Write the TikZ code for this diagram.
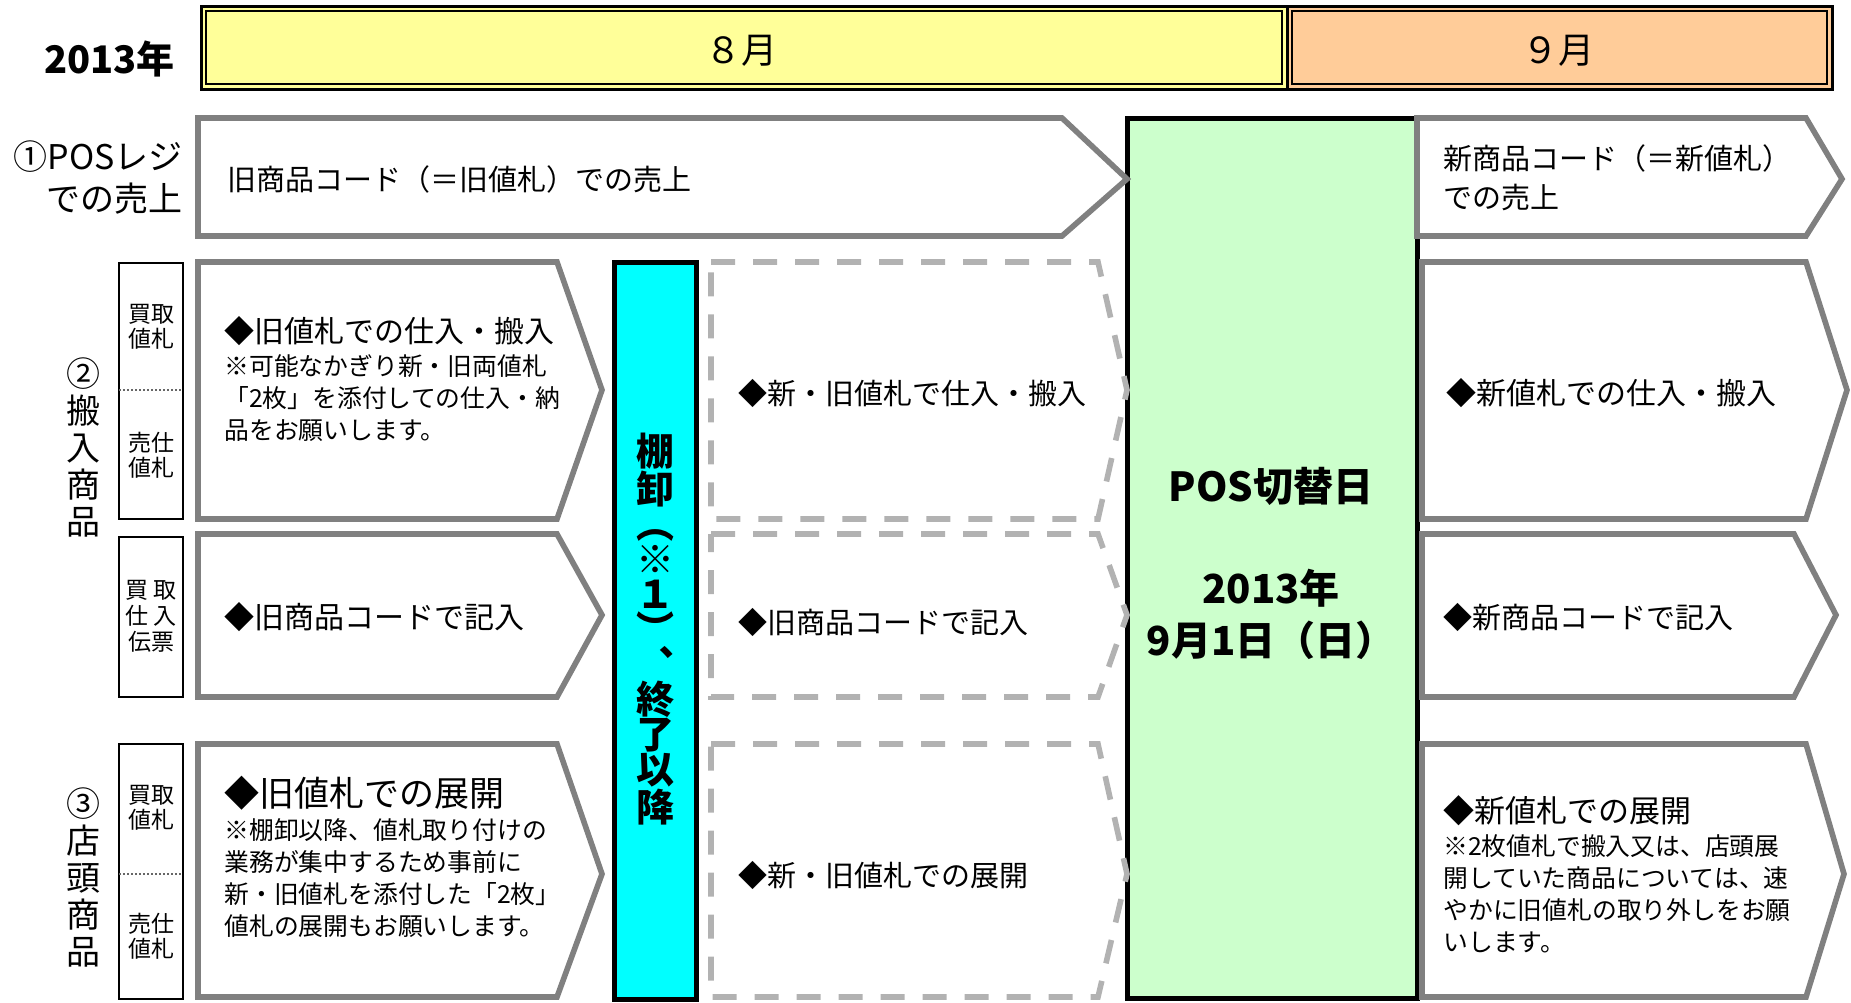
\documentclass[tikz,border=0pt]{standalone}
\usepackage{fontspec}
\setmainfont{Noto Sans CJK JP}
\usetikzlibrary{positioning}
\definecolor{augyellow}{HTML}{FFFF99}
\definecolor{seporange}{HTML}{FFCC99}
\definecolor{switchgreen}{HTML}{CCFFCC}
\definecolor{tanacyan}{HTML}{00FFFF}
\definecolor{dashgray}{HTML}{B2B2B2}

\begin{document}
\begin{tikzpicture}[x=0.5pt,y=-0.5pt]
		\tikzset{oldbox/.style = {draw=black!50, line width=2.8pt, line join=miter, fill=white},
			midbox/.style = {draw=dashgray, line width=2.8pt, dash pattern=on 12pt off 9pt},
			tagbox/.style = {draw, line width=1pt},
			txt/.style = {inner sep=0pt, anchor=west, align=left, font=\fontsize{14.5}{18}\selectfont},
			note/.style = {inner sep=0pt, anchor=west, align=left, font=\fontsize{12.4}{16}\selectfont},
			tag/.style = {inner sep=0pt, align=center, font=\fontsize{11.5}{12.3}\selectfont},
			side/.style = {inner sep=0pt, align=center, font=\fontsize{17}{18.5}\selectfont}}
		\useasboundingbox (0,0) rectangle (1851,1002);
		
		% month header
		\draw[line width=1.5pt, fill=augyellow] (201,6) rectangle (1287,89);
		\draw[line width=1pt] (206,11) rectangle (1282,84);
		\draw[line width=1.5pt, fill=seporange] (1287,6) rectangle (1832,89);
		\draw[line width=1pt] (1292,11) rectangle (1827,84);
		\node[inner sep=0pt, anchor=east, font=\bfseries\fontsize{19}{22}\selectfont] (YEAR) at (175,59) {2013年};
		\node[inner sep=0pt, font=\fontsize{18}{20}\selectfont] (AUG) at (741,51) {８月};
		\node[inner sep=0pt, font=\fontsize{18}{20}\selectfont] (SEP) at (1558,51) {９月};
		
		% switch day and inventory bar
		\draw[line width=2.5pt, fill=switchgreen] (1127,118) rectangle (1417,998);
		\draw[line width=2.5pt, fill=tanacyan] (614,262) rectangle (696,999);
		\node[inner sep=0pt, font=\bfseries\fontsize{20}{24}\selectfont] (SWITCH) at (1271,486) {POS切替日};
		\node[inner sep=0pt, align=center, font=\bfseries\fontsize{20}{26}\selectfont] (SWDATE) at (1271,614) {2013年\\9月1日（日）};
		\node[inner sep=0pt, align=center, font=\bfseries\fontsize{19}{17.5}\selectfont] (TANA) at (655,629)
		{棚\\卸\\︵\\※\\１\\︶\\︑\\終\\了\\以\\降};
		
		% (1) POS sales
		\node[inner sep=0pt, anchor=east, align=right, font=\fontsize{17}{21}\selectfont] (POSLBL) at (183,177) {①POSレジ\\での売上};
		\draw[oldbox] (198,118) -- (1062,118) -- (1127,179) -- (1062,236) -- (198,236) -- cycle;
		\node[txt] (OLDSALE) at (227,179) {旧商品コード（＝旧値札）での売上};
		\draw[oldbox] (1417,118) -- (1806,118) -- (1842,179) -- (1806,236) -- (1417,236) -- cycle;
		\node[txt, font=\fontsize{14.5}{19.5}\selectfont] (NEWSALE) at (1443,178) {新商品コード（＝新値札）\\での売上};
		
		% (2) incoming goods
		\node[side] (INLBL) at (83,447) {②\\搬\\入\\商\\品};
		\draw[tagbox] (119,263) rectangle (183,519);
		\draw[black!60, densely dotted, line width=1pt] (119,390) -- (183,390);
		\node[tag] (INTAGA) at (151,327) {買取\\値札};
		\node[tag] (INTAGB) at (151,455) {売仕\\値札};
		\draw[tagbox] (119,537) rectangle (183,697);
		\node[tag, font=\fontsize{11.5}{13}\selectfont] (INTAGC) at (151,616) {買 取\\仕 入\\伝票};
		
		\draw[oldbox] (198,262) -- (557,262) -- (602,390) -- (557,519) -- (198,519) -- cycle;
		\node[txt, font=\fontsize{15}{18}\selectfont] (INOLD) at (224,331) {◆旧値札での仕入・搬入};
		\node[note] (INOLDNOTE) at (224,398) {※可能なかぎり新・旧両値札\\「2枚」を添付しての仕入・納\\品をお願いします。};
		\draw[midbox] (711,262) -- (1098,262) -- (1127,390) -- (1098,519) -- (711,519) -- cycle;
		\node[txt] (INMID) at (738,393) {◆新・旧値札で仕入・搬入};
		\draw[oldbox] (1422,262) -- (1806,262) -- (1847,390) -- (1806,519) -- (1422,519) -- cycle;
		\node[txt, font=\fontsize{15}{18}\selectfont] (INNEW) at (1446,393) {◆新値札での仕入・搬入};
		
		\draw[oldbox] (198,534) -- (557,534) -- (602,615) -- (557,697) -- (198,697) -- cycle;
		\node[txt, font=\fontsize{15}{18}\selectfont] (SLIPOLD) at (224,617) {◆旧商品コードで記入};
		\draw[midbox] (711,534) -- (1098,534) -- (1127,615) -- (1098,697) -- (711,697) -- cycle;
		\node[txt] (SLIPMID) at (738,622) {◆旧商品コードで記入};
		\draw[oldbox] (1422,534) -- (1794,534) -- (1836,615) -- (1794,697) -- (1422,697) -- cycle;
		\node[txt] (SLIPNEW) at (1443,617) {◆新商品コードで記入};
		
		% (3) shop floor goods
		\node[side] (SHOPLBL) at (83,877) {③\\店\\頭\\商\\品};
		\draw[tagbox] (119,744) rectangle (183,999);
		\draw[black!60, densely dotted, line width=1pt] (119,874) -- (183,874);
		\node[tag] (SHTAGA) at (151,808) {買取\\値札};
		\node[tag] (SHTAGB) at (151,936) {売仕\\値札};
		
		\draw[oldbox] (198,744) -- (557,744) -- (602,874) -- (557,997) -- (198,997) -- cycle;
		\node[txt, font=\fontsize{17.5}{18}\selectfont] (SHOLD) at (224,793) {◆旧値札での展開};
		\node[note] (SHOLDNOTE) at (224,878) {※棚卸以降、値札取り付けの\\業務が集中するため事前に\\新・旧値札を添付した「2枚」\\値札の展開もお願いします。};
		\draw[midbox] (711,744) -- (1098,744) -- (1127,874) -- (1098,997) -- (711,997) -- cycle;
		\node[txt] (SHMID) at (738,875) {◆新・旧値札での展開};
		\draw[oldbox] (1422,744) -- (1806,744) -- (1844,874) -- (1806,997) -- (1422,997) -- cycle;
		\node[txt, font=\fontsize{15.5}{18}\selectfont] (SHNEW) at (1443,811) {◆新値札での展開};
		\node[note] (SHNEWNOTE) at (1443,894) {※2枚値札で搬入又は、店頭展\\開していた商品については、速\\やかに旧値札の取り外しをお願\\いします。};
		
\end{tikzpicture}
\end{document}
